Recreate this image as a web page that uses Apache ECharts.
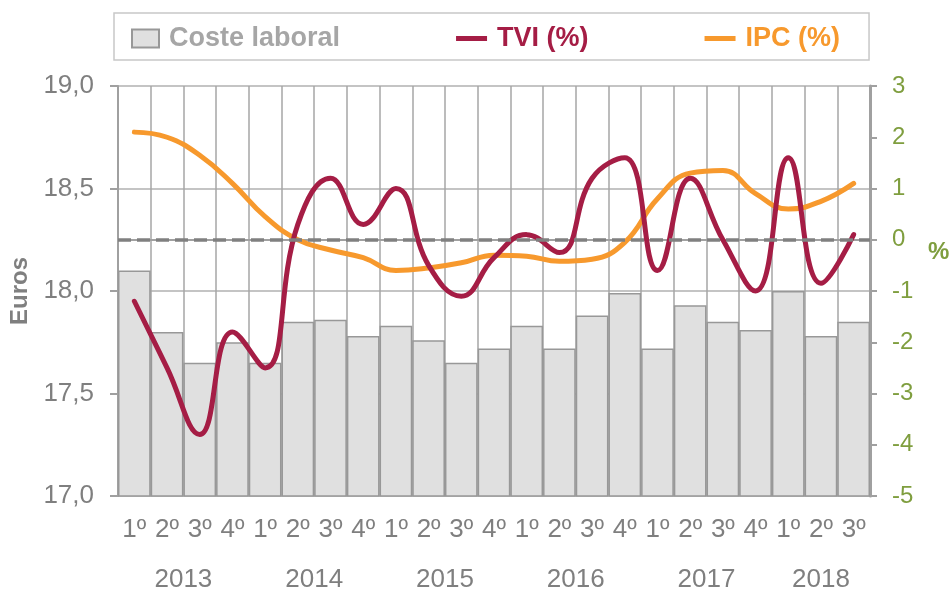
<!DOCTYPE html>
<html>
<head>
<meta charset="utf-8">
<script src="https://cdn.jsdelivr.net/npm/echarts@6/dist/echarts.min.js"></script>
<style>
  html, body { margin: 0; padding: 0; background: #fff; }
  #main { width: 951px; height: 591px; }
</style>
</head>
<body>
<div id="main"></div>
<script>
// trimestres 2013 1º .. 2018 3º
const quarters = ['1º', '2º', '3º', '4º', '1º', '2º', '3º', '4º', '1º', '2º', '3º', '4º',
  '1º', '2º', '3º', '4º', '1º', '2º', '3º', '4º', '1º', '2º', '3º']
const years = ['2013', '2014', '2015', '2016', '2017', '2018']
// posicion del año (en unidades de categoria) para el eje de años
const yearPos = [2, 6, 10, 14, 18, 21.5]

const costeLaboral = [18.10, 17.80, 17.65, 17.75, 17.65, 17.85, 17.86, 17.78,
  17.83, 17.76, 17.65, 17.72, 17.83, 17.72, 17.88, 17.99,
  17.72, 17.93, 17.85, 17.81, 18.00, 17.78, 17.85]
const tvi = [-1.2, -2.5, -3.8, -1.8, -2.5, 0.3, 1.2, 0.3,
  1.0, -0.5, -1.1, -0.35, 0.1, -0.25, 1.2, 1.6,
  -0.6, 1.2, 0.0, -1.0, 1.6, -0.85, 0.1]
const ipc = [2.1, 2.0, 1.65, 1.1, 0.45, 0.0, -0.2, -0.35,
  -0.6, -0.55, -0.45, -0.3, -0.32, -0.42, -0.38, -0.05,
  0.8, 1.3, 1.35, 0.9, 0.6, 0.75, 1.1]

const gray = '#7f7f7f'
const green = '#7f9e3f'
const colors = ['#e0e0e0', '#a51d45', '#f7992d']

const myChart = echarts.init(document.getElementById('main'))
const option = {
  animation: false,
  textStyle: { fontFamily: 'Liberation Sans, Arial, sans-serif' },
  legend: {
    left: 114,
    top: 13,
    padding: [12, 29, 8, 17],
    borderColor: '#c8c8c8',
    borderWidth: 1.5,
    itemWidth: 31,
    itemHeight: 18,
    itemGap: 116,
    textStyle: { fontSize: 27, fontWeight: 'bold', padding: [0, 0, 0, 3] },
    data: [
      { name: 'Coste laboral', icon: 'path://M0,0 L27,0 L27,18 L0,18 Z', textStyle: { color: '#a6a6a6' } },
      { name: 'TVI (%)', icon: 'path://M0,0 L31,0 L31,5 L0,5 Z', textStyle: { color: colors[1], padding: [0, 0, 0, 5] } },
      { name: 'IPC (%)', icon: 'path://M0,0 L31,0 L31,5 L0,5 Z', textStyle: { color: colors[2], padding: [0, 0, 0, 5] } }
    ]
  },
  grid: { left: 118, right: 81, top: 86, bottom: 95, outerBoundsMode: 'none' },
  xAxis: [
    {
      type: 'category',
      data: quarters,
      axisLine: { lineStyle: { color: '#a0a0a0', width: 2 } },
      axisTick: { show: false },
      splitLine: { show: true, interval: 0, lineStyle: { color: '#a6a6a6', width: 1.5 } },
      axisLabel: { color: gray, fontSize: 26, margin: 21, interval: 0 }
    },
    {
      type: 'value',
      position: 'bottom',
      min: 0,
      max: 23,
      interval: 0.5,
      axisLine: { show: false },
      axisTick: { show: false },
      splitLine: { show: false },
      axisLabel: {
        color: gray,
        fontSize: 26,
        margin: 71,
        showMinLabel: true,
        showMaxLabel: true,
        formatter: (v) => {
          const i = yearPos.indexOf(v)
          return i >= 0 ? years[i] : ''
        }
      }
    }
  ],
  yAxis: [
    {
      type: 'value',
      min: 17,
      max: 19,
      interval: 0.5,
      name: 'Euros',
      nameLocation: 'middle',
      nameRotate: 90,
      nameGap: 81,
      nameTextStyle: { color: gray, fontSize: 24, fontWeight: 'bold' },
      axisLine: { show: true, lineStyle: { color: '#a0a0a0', width: 2 } },
      axisTick: { show: true, length: 8, lineStyle: { color: '#a0a0a0', width: 2 } },
      splitLine: { lineStyle: { color: '#c4c4c4', width: 2 } },
      axisLabel: {
        color: gray,
        fontSize: 26,
        margin: 24,
        formatter: (v) => v.toFixed(1).replace('.', ',')
      }
    },
    {
      type: 'value',
      min: -5,
      max: 3,
      interval: 1,
      name: '{p|%}',
      nameLocation: 'middle',
      nameRotate: 0,
      nameGap: 58,
      nameTextStyle: {
        rich: { p: { color: green, fontSize: 24, fontWeight: 'bold', padding: [0, 0, 78, 0] } }
      },
      axisLine: { show: true, lineStyle: { color: '#a0a0a0', width: 3 } },
      axisTick: { show: true, length: 7, lineStyle: { color: '#a0a0a0', width: 2 } },
      splitLine: { show: false },
      axisLabel: { color: green, fontSize: 24, margin: 22 }
    }
  ],
  series: [
    {
      name: 'Coste laboral',
      type: 'bar',
      data: costeLaboral,
      barCategoryGap: '0%',
      itemStyle: { color: colors[0], borderColor: '#989898', borderWidth: 1.5 },
      z: 1
    },
    {
      name: 'IPC (%)',
      type: 'line',
      yAxisIndex: 1,
      data: ipc,
      smooth: 0.45,
      symbol: 'none',
      lineStyle: { color: colors[2], width: 5, cap: 'round' },
      itemStyle: { color: colors[2] },
      markLine: {
        silent: true,
        symbol: 'none',
        label: { show: false },
        lineStyle: { color: '#808080', width: 3.5, type: [13, 6] },
        data: [{ yAxis: 0 }]
      },
      z: 3
    },
    {
      name: 'TVI (%)',
      type: 'line',
      yAxisIndex: 1,
      data: tvi,
      smooth: 0.45,
      symbol: 'none',
      lineStyle: { color: colors[1], width: 5, cap: 'round' },
      itemStyle: { color: colors[1] },
      z: 4
    }
  ]
}
myChart.setOption(option)
</script>
</body>
</html>
